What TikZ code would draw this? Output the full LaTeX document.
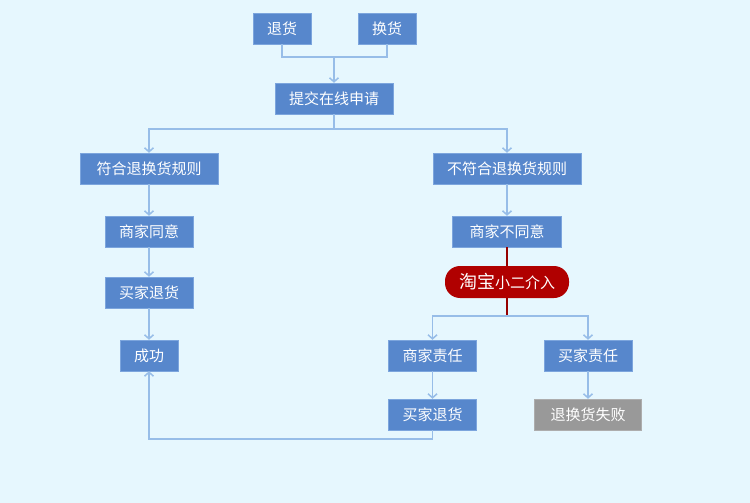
\documentclass[tikz,border=0pt]{standalone}
\usepackage{fontspec}
\setmainfont{Noto Sans CJK SC}
\usetikzlibrary{arrows.meta}
\definecolor{bgblue}{HTML}{E6F7FE}
\definecolor{boxblue}{HTML}{5787CC}
\definecolor{boxedge}{HTML}{7CA5DD}
\definecolor{linkblue}{HTML}{97BDE8}
\definecolor{taobaored}{HTML}{B00000}
\definecolor{failgray}{HTML}{999999}

\begin{document}
\begin{tikzpicture}[x=1pt, y=-1pt,
  every node/.style = {shape=rectangle, fill=boxblue, draw=boxedge,
    text=white, font=\fontsize{15}{18}\selectfont,
    minimum height=31pt, inner xsep=14pt, inner ysep=0pt},
  xiaoer/.style = {fill=taobaored, draw=none, rounded corners=15pt,
    minimum height=32pt, minimum width=121pt},
  fail/.style = {fill=failgray, draw=failgray!80!white},
  link/.style = {draw=linkblue, line width=1.5pt},
  redlink/.style = {draw=taobaored!85!black, line width=1.5pt},
  arr/.style = {link, -{Straight Barb[length=4pt,width=9pt]}}]
  \useasboundingbox[fill=bgblue] (0,0) rectangle (750,503);

  % top: request
  \node (tuihuo) at (282,28.5) {退货};
  \node (huanhuo) at (387,28.5) {换货};
  \node (tijiao) at (334,98.5) {提交在线申请};

  % left branch
  \node[minimum width=138pt] (fuhe) at (149,168.5) {符合退换货规则};
  \node (tongyi) at (149,231.5) {商家同意};
  \node (maituiL) at (149,292.5) {买家退货};
  \node (chenggong) at (149,355.5) {成功};

  % right branch
  \node[minimum width=148pt] (bufuhe) at (507,168.5) {不符合退换货规则};
  \node[minimum width=109pt] (butongyi) at (507,231.5) {商家不同意};
  \node[xiaoer] (xiaoer) at (507,282)
    {{\fontsize{18}{20}\selectfont 淘宝}小二介入};
  \node (shangjia) at (432.5,355.5) {商家责任};
  \node (maijia) at (588,355.5) {买家责任};
  \node (maituiR) at (432.5,414.5) {买家退货};
  \node[fail, minimum width=107pt] (shibai) at (588,414.5) {退换货失败};

  % joints
  \coordinate (j1) at (334,57);
  \coordinate (j2) at (334,129);
  \coordinate (j3) at (507,316);
  \coordinate (j4) at (432.5,439);

  \draw[link] (tuihuo) |- (j1) -| (huanhuo);
  \draw[arr] (j1) -- (tijiao);
  \draw[link] (tijiao) -- (j2);
  \draw[arr] (j2) -| (fuhe);
  \draw[arr] (j2) -| (bufuhe);

  \draw[arr] (fuhe) -- (tongyi);
  \draw[arr] (tongyi) -- (maituiL);
  \draw[arr] (maituiL) -- (chenggong);

  \draw[arr] (bufuhe) -- (butongyi);
  \draw[redlink] (butongyi) -- (xiaoer);
  \draw[redlink] (xiaoer) -- (j3);
  \draw[arr] (j3) -| (shangjia);
  \draw[arr] (j3) -| (maijia);
  \draw[arr] (shangjia) -- (maituiR);
  \draw[arr] (maijia) -- (shibai);
  \draw[arr] (maituiR) -- (j4) -| (chenggong);
\end{tikzpicture}
\end{document}
